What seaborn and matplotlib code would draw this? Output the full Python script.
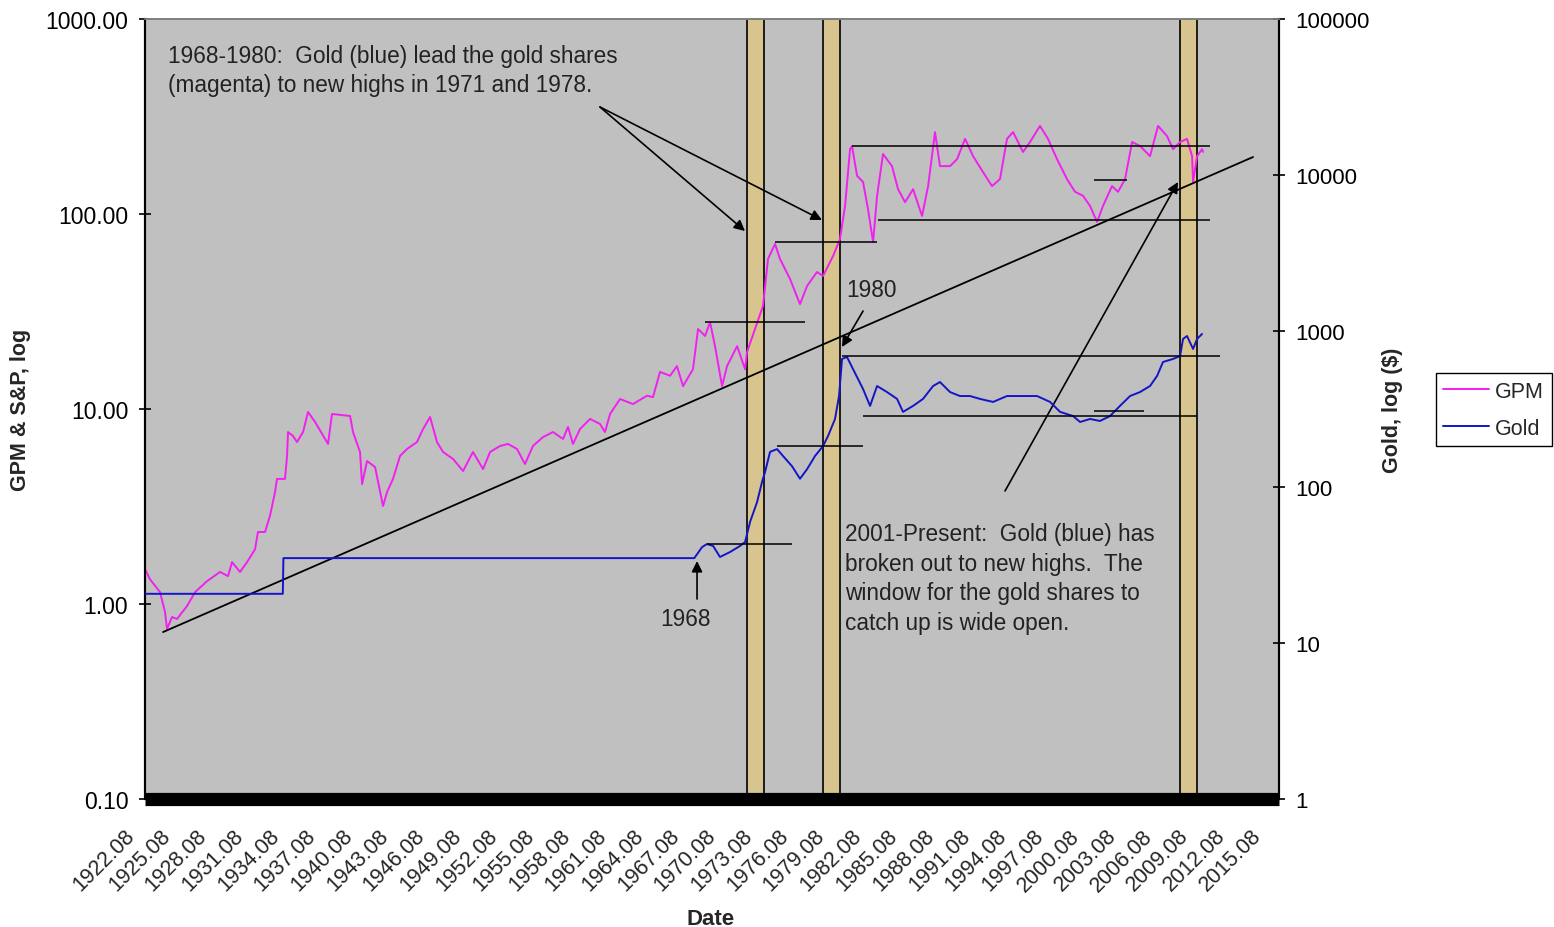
import matplotlib
matplotlib.use("Agg")
import matplotlib.pyplot as plt
import seaborn as sns
from matplotlib.lines import Line2D
from matplotlib.ticker import FixedLocator, FixedFormatter, NullLocator
from matplotlib.transforms import ScaledTranslation

# GPM index (left axis, log)
gpm_year = [1922.58, 1922.99, 1923.82, 1924.23, 1924.40, 1924.81, 1925.22, 1926.05, 1926.71, 1927.70,
            1928.77, 1929.43, 1929.76, 1930.42, 1931.00, 1931.66, 1931.90, 1932.48, 1932.89, 1933.31,
            1933.47, 1934.13, 1934.30, 1934.38, 1934.79, 1935.12, 1935.62, 1936.03, 1936.61, 1937.43,
            1937.68, 1938.01, 1939.50, 1939.74, 1940.32, 1940.49, 1940.90, 1941.56, 1942.22, 1942.55,
            1943.04, 1943.62, 1944.20, 1945.02, 1945.52, 1946.10, 1946.67, 1947.17, 1948.00, 1948.82,
            1949.64, 1950.47, 1951.05, 1951.87, 1952.53, 1953.27, 1953.93, 1954.59, 1955.42, 1956.24,
            1957.07, 1957.48, 1957.89, 1958.47, 1959.30, 1960.12, 1960.53, 1960.95, 1961.77, 1962.84,
            1964.00, 1964.49, 1965.07, 1965.90, 1966.47, 1966.97, 1967.79, 1968.21, 1968.79, 1969.20,
            1969.61, 1970.19, 1970.60, 1971.43, 1972.09, 1972.25, 1973.57, 1973.98, 1974.56, 1974.97,
            1975.80, 1976.62, 1977.20, 1978.02, 1978.52, 1979.35, 1979.92, 1980.34, 1980.75, 1980.91,
            1981.33, 1981.82, 1982.23, 1982.65, 1982.98, 1983.47, 1984.21, 1984.71, 1985.29, 1985.95,
            1986.69, 1987.19, 1987.76, 1988.17, 1989.00, 1989.58, 1990.24, 1990.90, 1991.72, 1992.46,
            1993.12, 1993.70, 1994.20, 1995.02, 1995.60, 1996.42, 1997.08, 1997.83, 1998.65, 1999.31,
            1999.97, 2000.55, 2001.13, 2001.62, 2002.36, 2002.86, 2003.44, 2004.02, 2004.68, 2005.50,
            2006.16, 2006.90, 2007.40, 2007.98, 2008.55, 2008.97, 2009.05, 2009.38, 2009.79, 2009.87]
gpm_value = [1.51, 1.34, 1.15, 0.91, 0.745, 0.858, 0.838, 0.977, 1.15, 1.31,
             1.46, 1.39, 1.64, 1.46, 1.64, 1.91, 2.34, 2.34, 2.83, 3.75,
             4.38, 4.38, 5.74, 7.62, 7.27, 6.77, 7.62, 9.66, 8.58, 7.02,
             6.62, 9.43, 9.21, 7.62, 6.02, 4.12, 5.41, 5.04, 3.18, 3.75,
             4.38, 5.74, 6.24, 6.77, 7.89, 9.10, 6.77, 6.02, 5.54, 4.81,
             6.02, 4.92, 6.02, 6.46, 6.62, 6.24, 5.22, 6.46, 7.18, 7.62,
             7.02, 8.09, 6.62, 7.89, 8.89, 8.38, 7.62, 9.43, 11.25, 10.6,
             11.7, 11.5, 15.5, 14.8, 16.6, 13.1, 16.0, 25.7, 23.7, 27.9,
             21.0, 13.1, 16.6, 21.0, 16.0, 19.6, 33.8, 58.8, 70.2, 58.8,
             46.4, 34.5, 42.7, 50.4, 48.1, 60.9, 74.5, 110, 215, 223,
             157, 146, 106, 71.8, 124, 203, 176, 134, 115, 134,
             97.7, 139, 263, 176, 176, 191, 243, 198, 164, 139,
             151, 243, 263, 208, 234, 283, 243, 191, 151, 130,
             124, 110, 91.0, 110, 139, 130, 151, 234, 223, 198,
             283, 251, 215, 234, 243, 198, 146, 198, 215, 208]

# Gold price (right axis, log)
gold_year = [1922.58, 1933.95, 1934.00, 1967.90, 1968.54, 1968.95, 1969.45, 1970.02, 1970.85, 1971.67,
             1972.09, 1972.50, 1973.08, 1973.49, 1973.74, 1974.15, 1974.73, 1975.22, 1975.96, 1976.62,
             1977.20, 1977.86, 1978.52, 1978.93, 1979.51, 1979.84, 1980.09, 1980.50, 1980.99, 1981.82,
             1982.40, 1982.98, 1983.80, 1984.63, 1985.12, 1985.95, 1986.77, 1987.60, 1988.17, 1989.00,
             1989.82, 1990.65, 1991.47, 1992.55, 1993.70, 1994.77, 1996.18, 1997.25, 1998.08, 1999.15,
             1999.73, 2000.55, 2001.37, 2002.20, 2003.02, 2003.85, 2004.67, 2005.50, 2006.08, 2006.57,
             2007.40, 2007.98, 2008.22, 2008.55, 2009.05, 2009.38, 2009.79]
gold_value = [20.67, 20.67, 35.0, 35.0, 41.2, 43.1, 41.9, 35.6, 38.3, 41.9,
              44.4, 59.7, 80.1, 108, 125, 168, 175, 158, 136, 113,
              130, 158, 183, 212, 273, 383, 662, 681, 571, 425,
              331, 444, 406, 367, 303, 331, 367, 444, 471, 406,
              383, 383, 367, 351, 383, 383, 383, 351, 303, 285,
              261, 273, 265, 285, 331, 383, 406, 444, 515, 633,
              662, 691, 889, 929, 767, 889, 957]

# shaded windows
bar_start = [1972.25, 1978.52, 2007.98]
bar_end = [1973.65, 1979.92, 2009.38]

# horizontal reference levels
gpm_level_start = [1968.79, 1974.56, 1980.91, 1983.06, 2000.89]
gpm_level_end = [1977.04, 1982.98, 2010.45, 2010.45, 2003.61]
gpm_level = [27.9, 71.8, 223, 93.2, 149]
gold_level_start = [1968.95, 1974.73, 1980.09, 1981.82, 2000.89]
gold_level_end = [1975.96, 1981.82, 2011.28, 2009.38, 2005.02]
gold_level = [43.1, 183, 691, 285, 307]

trend_year = [1924.07, 2014.0]
trend_value = [0.718, 196]

left_ticks = [0.1, 1, 10, 100, 1000]
left_labels = ["0.10", "1.00", "10.00", "100.00", "1000.00"]
right_ticks = [1, 10, 100, 1000, 10000, 100000]
right_labels = ["1", "10", "100", "1000", "10000", "100000"]
x_tick_years = [1922.58 + 3 * i for i in range(32)]
x_tick_labels = [f"{1922 + 3 * i}.08" for i in range(32)]

MAGENTA = "#F020F0"
BLUE = "#1414C8"
TAN = "#D8C48E"

sns.set_theme(style="ticks")
plt.rcParams["font.family"] = ["Liberation Sans", "DejaVu Sans"]

fig = plt.figure(figsize=(15.54, 9.28), dpi=100)
ax = fig.add_axes([145 / 1554, 128 / 928, 1134 / 1554, 780 / 928])
ax.set_facecolor("#C0C0C0")
ax.set_yscale("log")
ax.set_xlim(1922.58, 2016.14)
ax.set_ylim(0.1, 1000)

for s, e in zip(bar_start, bar_end):
    ax.axvspan(s, e, facecolor=TAN, edgecolor="black", lw=1.2, zorder=1)

sns.lineplot(x=gpm_year, y=gpm_value, ax=ax, color=MAGENTA, lw=1.4,
             estimator=None, legend=False, zorder=3)
ax.hlines(gpm_level, gpm_level_start, gpm_level_end, color="black", lw=1.1, zorder=4)
sns.lineplot(x=trend_year, y=trend_value, ax=ax, color="black", lw=1.3,
             estimator=None, legend=False, zorder=4)

ax2 = ax.twinx()
ax2.set_yscale("log")
ax2.set_ylim(1, 100000)
sns.lineplot(x=gold_year, y=gold_value, ax=ax2, color=BLUE, lw=1.4,
             estimator=None, legend=False, zorder=3)
ax2.hlines(gold_level, gold_level_start, gold_level_end, color="black", lw=1.1, zorder=4)
ax2.set_xlim(1922.58, 2016.14)

# thick black base band
ax.axhline(0.1, color="black", lw=9.5, zorder=6, clip_on=False, solid_capstyle="butt")

# ticks
ax.yaxis.set_major_locator(FixedLocator(left_ticks))
ax.yaxis.set_major_formatter(FixedFormatter(left_labels))
ax.yaxis.set_minor_locator(NullLocator())
ax2.yaxis.set_major_locator(FixedLocator(right_ticks))
ax2.yaxis.set_major_formatter(FixedFormatter(right_labels))
ax2.yaxis.set_minor_locator(NullLocator())
ax.tick_params(axis="y", direction="inout", length=8, width=1.2, pad=8, labelsize=16.5, colors="black")
ax2.tick_params(axis="y", direction="inout", length=8, width=1.2, pad=8, labelsize=16, colors="black")

ax.set_xticks(x_tick_years)
ax.set_xticklabels(x_tick_labels, rotation=45, ha="right", va="center",
                   rotation_mode="anchor", fontsize=15.5)
ax.tick_params(axis="x", length=0, pad=24)
shift = ScaledTranslation(-14 / 100, 0, fig.dpi_scale_trans)
for lab in ax.get_xticklabels():
    lab.set_transform(lab.get_transform() + shift)

for a in (ax, ax2):
    a.spines["left"].set_color("black")
    a.spines["right"].set_color("black")
    a.spines["left"].set_linewidth(1.5)
    a.spines["right"].set_linewidth(1.5)
    a.spines["top"].set_color("#808080")
    a.spines["bottom"].set_visible(False)

ax.set_ylabel("GPM & S&P, log", fontsize=15.5, fontweight="bold")
ax.yaxis.set_label_coords(-0.1005, 0.5)
ax2.set_ylabel("Gold, log ($)", fontsize=15.5, fontweight="bold")
ax2.yaxis.set_label_coords(1.091, 0.5)
ax.set_xlabel("Date", fontsize=16, fontweight="bold")
ax.xaxis.set_label_coords(0.499, -0.14)

# annotations
txt = dict(fontsize=16.3, color="#222222", transform=ax.transAxes, zorder=7)
ax.text(0.0203, 0.968, "1968-1980:  Gold (blue) lead the gold shares\n(magenta) to new highs in 1971 and 1978.",
        va="top", ha="left", linespacing=1.33, **txt)
ax.text(0.618, 0.6526, "1980", va="center", ha="left", **txt)
ax.text(0.477, 0.2308, "1968", va="center", ha="center", **txt)
ax.text(0.6173, 0.355, "2001-Present:  Gold (blue) has\nbroken out to new highs.  The\n"
        "window for the gold shares to\ncatch up is wide open.",
        va="top", ha="left", linespacing=1.37, **txt)

arrow = dict(arrowstyle="-|>", color="black", lw=1.2, mutation_scale=16, shrinkA=0, shrinkB=0)
for start, end in [((0.4012, 0.8872), (0.5291, 0.7282)),
                   ((0.4012, 0.8872), (0.5970, 0.7423)),
                   ((0.6332, 0.6256), (0.6146, 0.5795)),
                   ((0.7584, 0.3949), (0.9109, 0.7910)),
                   ((0.4868, 0.2564), (0.4868, 0.3051))]:
    ax.annotate("", xy=end, xytext=start, xycoords="axes fraction",
                textcoords="axes fraction", arrowprops=arrow, zorder=7)

handles = [Line2D([], [], color=MAGENTA, lw=1.4), Line2D([], [], color=BLUE, lw=1.4)]
fig.legend(handles, ["GPM", "Gold"], loc="upper left", bbox_to_anchor=(0.924, 0.597),
           frameon=True, fancybox=False, edgecolor="black", framealpha=1, fontsize=15.5,
           handlelength=2.1, borderpad=0.35, labelspacing=0.75, handletextpad=0.3,
           borderaxespad=0)

fig.savefig("out.png", dpi=100, facecolor="white")
